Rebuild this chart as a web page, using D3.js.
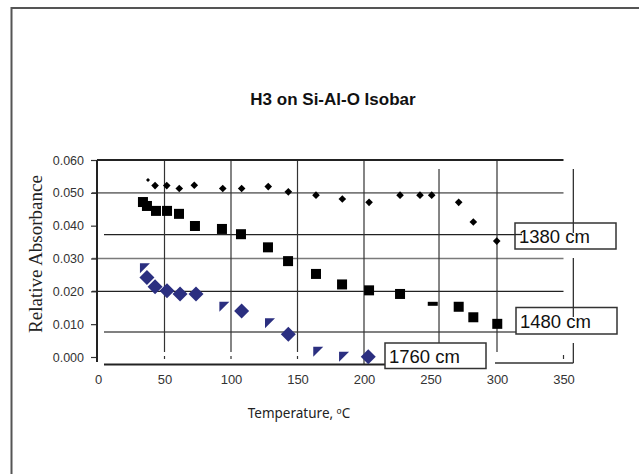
<!DOCTYPE html>
<html>
<head>
<meta charset="utf-8">
<script src="https://cdn.jsdelivr.net/npm/d3@7"></script>
<style>
  html, body { margin: 0; padding: 0; background: #fff; }
  svg { display: block; }
</style>
</head>
<body>
<svg id="chart" width="639" height="474"></svg>
<script>
// Temperature (ºC) and relative absorbance for the three IR bands
const temp1380 = [37.6, 42.9, 51.7, 61.1, 72.4, 93.8, 108.0, 128.0, 143.1, 163.9, 183.7, 203.8, 227.1, 242.1, 250.9, 271.2, 282.2, 299.8];
const abs1380  = [0.0539, 0.0522, 0.0522, 0.0513, 0.0523, 0.0513, 0.0513, 0.0519, 0.0503, 0.0493, 0.0481, 0.0471, 0.0493, 0.0493, 0.0493, 0.0471, 0.0411, 0.0353];

const temp1480 = [33.8, 36.8, 43.6, 51.9, 60.9, 72.9, 93.2, 107.5, 127.8, 142.9, 163.9, 183.5, 203.8, 227.1, 251.7, 271.2, 282.2, 300.2];
const abs1480  = [0.0472, 0.0460, 0.0445, 0.0445, 0.0436, 0.0399, 0.0390, 0.0374, 0.0334, 0.0292, 0.0253, 0.0221, 0.0203, 0.0192, 0.0162, 0.0153, 0.0121, 0.0101];

const temp1760 = [35.3, 36.8, 42.9, 51.9, 61.7, 73.7, 95.0, 108.0, 129.3, 143.1, 165.6, 185.0, 203.2];
const abs1760  = [0.0270, 0.0242, 0.0214, 0.0202, 0.0192, 0.0192, 0.0153, 0.0140, 0.0103, 0.0069, 0.0016, 0.0001, 0.0001];

// Points whose marker prints only partially
const partial1380 = [0];
const partial1480 = [14];
const partial1760 = [0, 6, 8, 10, 11];

const xTicks = [0, 50, 100, 150, 200, 250, 300, 350];
const yTicks = [0, 0.01, 0.02, 0.03, 0.04, 0.05, 0.06];
const seriesLabels = ["1380 cm", "1480 cm", "1760 cm"];

const chartTitle = "H3 on Si-Al-O Isobar";
const xTitle = "Temperature, ºC";
const yTitle = "Relative Absorbance";

// Reference lines printed in the plot area
const gridY = [0.05, 0.03, 0.02];
const gridYDark = [false, false, true];
const offsetY = [0.0373, 0.0076];
const gridX = [50, 100, 150, 200, 300];
const offsetX = [256.4];
const bracketX = 357.4;

const svg = d3.select("#chart");
const x = d3.scaleLinear().domain([0, 350]).range([98, 563.5]);
const y = d3.scaleLinear().domain([0, 0.06]).range([357, 160]);

svg.append("rect").attr("width", 639).attr("height", 474).attr("fill", "#fff");

// outer frame (top and left edges)
svg.append("path")
  .attr("d", "M11.5,474 L11.5,8 L639,8")
  .attr("fill", "none").attr("stroke", "#555").attr("stroke-width", 2);

// title
svg.append("text")
  .attr("x", 333).attr("y", 105)
  .attr("text-anchor", "middle")
  .attr("font-family", "'Liberation Sans Narrow', 'Liberation Sans', Arial, sans-serif")
  .attr("font-weight", "bold")
  .attr("font-size", 17)
  .attr("fill", "#111")
  .text(chartTitle);

const plot = svg.append("g");

// horizontal grid
plot.selectAll("line.gy").data(gridY).join("line")
  .attr("x1", x(0) - 6).attr("x2", x(350))
  .attr("y1", d => y(d)).attr("y2", d => y(d))
  .attr("stroke", (d, i) => gridYDark[i] ? "#222" : "#7a7a7a")
  .attr("stroke-width", (d, i) => gridYDark[i] ? 1.3 : 1.6);

// offset horizontal lines
plot.append("line")
  .attr("x1", 104).attr("x2", 520)
  .attr("y1", y(offsetY[0])).attr("y2", y(offsetY[0]))
  .attr("stroke", "#222").attr("stroke-width", 1.3);
plot.append("line")
  .attr("x1", 104).attr("x2", 526)
  .attr("y1", y(offsetY[1])).attr("y2", y(offsetY[1]))
  .attr("stroke", "#808080").attr("stroke-width", 2);

// vertical grid
plot.selectAll("line.gx").data(gridX).join("line")
  .attr("x1", d => x(d)).attr("x2", d => x(d))
  .attr("y1", y(0.06)).attr("y2", d => d === 200 ? y(0) + 8 : y(0) - 5)
  .attr("stroke", "#333").attr("stroke-width", 1.2);
plot.selectAll("line.gxt").data(gridX.filter(d => d < 200)).join("line")
  .attr("x1", d => x(d)).attr("x2", d => x(d))
  .attr("y1", y(0) - 1).attr("y2", y(0) + 2)
  .attr("stroke", "#333").attr("stroke-width", 1.2);
plot.append("line")
  .attr("x1", x(offsetX[0])).attr("x2", x(offsetX[0]))
  .attr("y1", 169).attr("y2", 343)
  .attr("stroke", "#333").attr("stroke-width", 1.2);

// right-hand bracket segments
const bx = x(bracketX);
[[169, 223], [258, 307], [343, 363]].forEach(([a, b]) => {
  plot.append("line").attr("x1", bx).attr("x2", bx).attr("y1", a).attr("y2", b)
    .attr("stroke", "#333").attr("stroke-width", 1.3);
});
plot.append("line").attr("x1", x(300) - 2).attr("x2", bx).attr("y1", 363).attr("y2", 363)
  .attr("stroke", "#333").attr("stroke-width", 1.6);
plot.append("line").attr("x1", x(350)).attr("x2", x(350)).attr("y1", 355).attr("y2", 359)
  .attr("stroke", "#333").attr("stroke-width", 1.2);

// plot top edge
plot.append("line")
  .attr("x1", x(0) - 1).attr("x2", x(350))
  .attr("y1", y(0.06)).attr("y2", y(0.06))
  .attr("stroke", "#222").attr("stroke-width", 2);

// y axis
const yAxis = d3.axisLeft(y).tickValues(yTicks).tickFormat(d3.format(".3f"))
  .tickSize(6).tickPadding(7);
const gy = svg.append("g").attr("transform", "translate(97,0)").call(yAxis);
gy.select(".domain").remove();
gy.selectAll(".tick line").attr("stroke", "#333").attr("stroke-width", 1.2);
gy.selectAll(".tick text")
  .attr("font-family", "'Liberation Sans', Arial, sans-serif")
  .attr("font-size", 12.5).attr("fill", "#333");
svg.append("line").attr("x1", 97).attr("x2", 97)
  .attr("y1", y(0.06)).attr("y2", y(0) + 5)
  .attr("stroke", "#222").attr("stroke-width", 2);

// x axis
const xAxis = d3.axisBottom(x).tickValues(xTicks).tickSize(0).tickPadding(11);
const gx = svg.append("g").attr("transform", "translate(0,364)").call(xAxis);
gx.select(".domain").remove();
gx.selectAll(".tick text")
  .attr("font-family", "'Liberation Sans', Arial, sans-serif")
  .attr("font-size", 13).attr("fill", "#333");
svg.append("line").attr("x1", 104).attr("x2", 386)
  .attr("y1", 364.5).attr("y2", 364.5)
  .attr("stroke", "#222").attr("stroke-width", 2);

// axis titles
svg.append("text")
  .attr("transform", "translate(42,254) rotate(-90)")
  .attr("text-anchor", "middle")
  .attr("font-family", "'Liberation Serif', 'Times New Roman', serif")
  .attr("font-size", 19)
  .attr("fill", "#222")
  .text(yTitle);
svg.append("text")
  .attr("x", 299).attr("y", 418)
  .attr("text-anchor", "middle")
  .attr("font-family", "'Noto Sans', sans-serif")
  .attr("font-size", 13.5)
  .attr("fill", "#222")
  .text(xTitle);

// marker paths
const diamond = (cx, cy, r) => `M${cx},${cy - r}L${cx + r},${cy}L${cx},${cy + r}L${cx - r},${cy}Z`;
// clipped marker: flat top, straight left side, slanted right side
const corner = (cx, cy, s) => `M${cx - s / 2},${cy - s / 2}L${cx + s / 2},${cy - s / 2}L${cx - s / 2},${cy + s / 2}Z`;

const marks = svg.append("g");

// 1380 band
marks.selectAll("path.m1380").data(d3.range(temp1380.length)).join("path")
  .attr("d", i => diamond(x(temp1380[i]), y(abs1380[i]), partial1380.includes(i) ? 2 : 3.8))
  .attr("fill", "#000");

// 1480 band
marks.selectAll("rect.m1480").data(d3.range(temp1480.length)).join("rect")
  .attr("x", i => x(temp1480[i]) - 5)
  .attr("y", i => y(abs1480[i]) - (partial1480.includes(i) ? 2 : 5))
  .attr("width", 10)
  .attr("height", i => partial1480.includes(i) ? 4 : 10)
  .attr("fill", "#000");

// 1760 band
marks.selectAll("path.m1760").data(d3.range(temp1760.length)).join("path")
  .attr("d", i => partial1760.includes(i)
    ? corner(x(temp1760[i]), y(abs1760[i]), 10)
    : diamond(x(temp1760[i]), y(abs1760[i]), 7.5))
  .attr("fill", "#2b2f80");

// band labels
const labelBoxes = [
  { x: 515, y: 223, w: 101, h: 26 },
  { x: 516, y: 307.5, w: 101, h: 26.5 },
  { x: 385, y: 343, w: 101, h: 25.5 }
];
const lg = svg.append("g");
seriesLabels.forEach((t, i) => {
  const b = labelBoxes[i];
  lg.append("rect").attr("x", b.x).attr("y", b.y).attr("width", b.w).attr("height", b.h)
    .attr("fill", "#fff").attr("stroke", "#333").attr("stroke-width", 1.5);
  lg.append("text").attr("x", b.x + 4).attr("y", b.y + b.h - 6)
    .attr("font-family", "'Liberation Sans', Arial, sans-serif")
    .attr("font-size", 18.5).attr("fill", "#111")
    .text(t);
});
// guide lines running into the 1380 and 1480 labels
lg.append("line").attr("x1", 515).attr("x2", 522)
  .attr("y1", y(offsetY[0])).attr("y2", y(offsetY[0]))
  .attr("stroke", "#222").attr("stroke-width", 1.3);
lg.append("line").attr("x1", bx).attr("x2", bx).attr("y1", 223).attr("y2", 233)
  .attr("stroke", "#333").attr("stroke-width", 1.3);
lg.append("line").attr("x1", bx).attr("x2", bx).attr("y1", 307.5).attr("y2", 317)
  .attr("stroke", "#333").attr("stroke-width", 1.3);
</script>
</body>
</html>
